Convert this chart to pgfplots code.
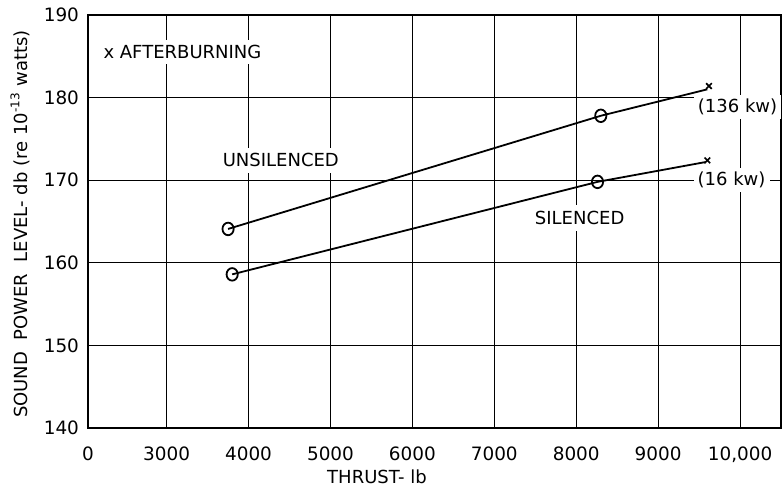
\documentclass[border=0pt]{standalone}
\usepackage{fontspec}
\setmainfont{DejaVu Sans}
\usepackage{pgfplots}
\pgfplotsset{compat=1.18}
\begin{document}
\begin{tikzpicture}
\begin{axis}[
  at={(0,0)}, anchor=south west,
  scale only axis, width=346.5pt, height=206.5pt,
  xmin=2040, xmax=10500, ymin=140, ymax=190,
  xtick={2040,3000,4000,5000,6000,7000,8000,9000,10000},
  xticklabels={0,3000,4000,5000,6000,7000,8000,9000,{10,000}},
  ytick={140,150,160,170,180,190},
  major tick length=0pt,
  grid=major,
  grid style={black, line width=0.55pt},
  axis line style={black, line width=1.3pt},
  tick label style={font=\fontsize{9.2}{10}\selectfont},
  xticklabel style={yshift=-6pt},
  yticklabel style={xshift=-1pt},
  /pgf/number format/assume math mode=true,
  clip=false,
]
\node[fill=white, inner sep=2.5pt, anchor=west, font=\fontsize{9}{10}\selectfont] at (axis cs:2164,185.5) {x AFTERBURNING};
\node[fill=white, inner sep=3pt, font=\fontsize{9}{10}\selectfont] at (axis cs:4394,172.4) {UNSILENCED};
\node[fill=white, inner sep=3pt, font=\fontsize{9}{10}\selectfont] at (axis cs:8042,165.4) {SILENCED};
\node[fill=white, inner sep=2pt, font=\fontsize{9}{10}\selectfont] at (axis cs:9970,178.9) {(136 kw)};
\node[fill=white, inner sep=2pt, font=\fontsize{9}{10}\selectfont] at (axis cs:9897,170.0) {(16 kw)};
% unsilenced
\addplot[black, line width=0.9pt] coordinates {(3750,164.1) (8300,177.8) (9600,181.0)};
\addplot[black, only marks, mark=o, mark size=2.8pt, mark options={line width=0.9pt, yscale=1.12, fill=white}] coordinates {(3750,164.1) (8300,177.8)};
\addplot[black, only marks, mark=x, mark size=2pt, mark options={line width=0.8pt}] coordinates {(9620,181.4)};
% silenced
\addplot[black, line width=0.9pt] coordinates {(3800,158.6) (8260,169.8) (9580,172.2)};
\addplot[black, only marks, mark=o, mark size=2.8pt, mark options={line width=0.9pt, yscale=1.12, fill=white}] coordinates {(3800,158.6) (8260,169.8)};
\addplot[black, only marks, mark=x, mark size=2pt, mark options={line width=0.8pt}] coordinates {(9600,172.4)};
\node[rotate=90, font=\fontsize{9}{10}\selectfont] at ([xshift=-34pt]rel axis cs:0,0.494) {SOUND\ \ POWER\ \ LEVEL- db (re 10\textsuperscript{-13} watts)};
\node[anchor=west, font=\fontsize{9}{10}\selectfont] at ([yshift=-24.5pt]rel axis cs:0.335,0) {THRUST- lb};
\end{axis}
\pgfresetboundingbox
\path[use as bounding box] (-44pt,-30.5pt) rectangle (347pt,214pt);
\end{tikzpicture}
\end{document}
